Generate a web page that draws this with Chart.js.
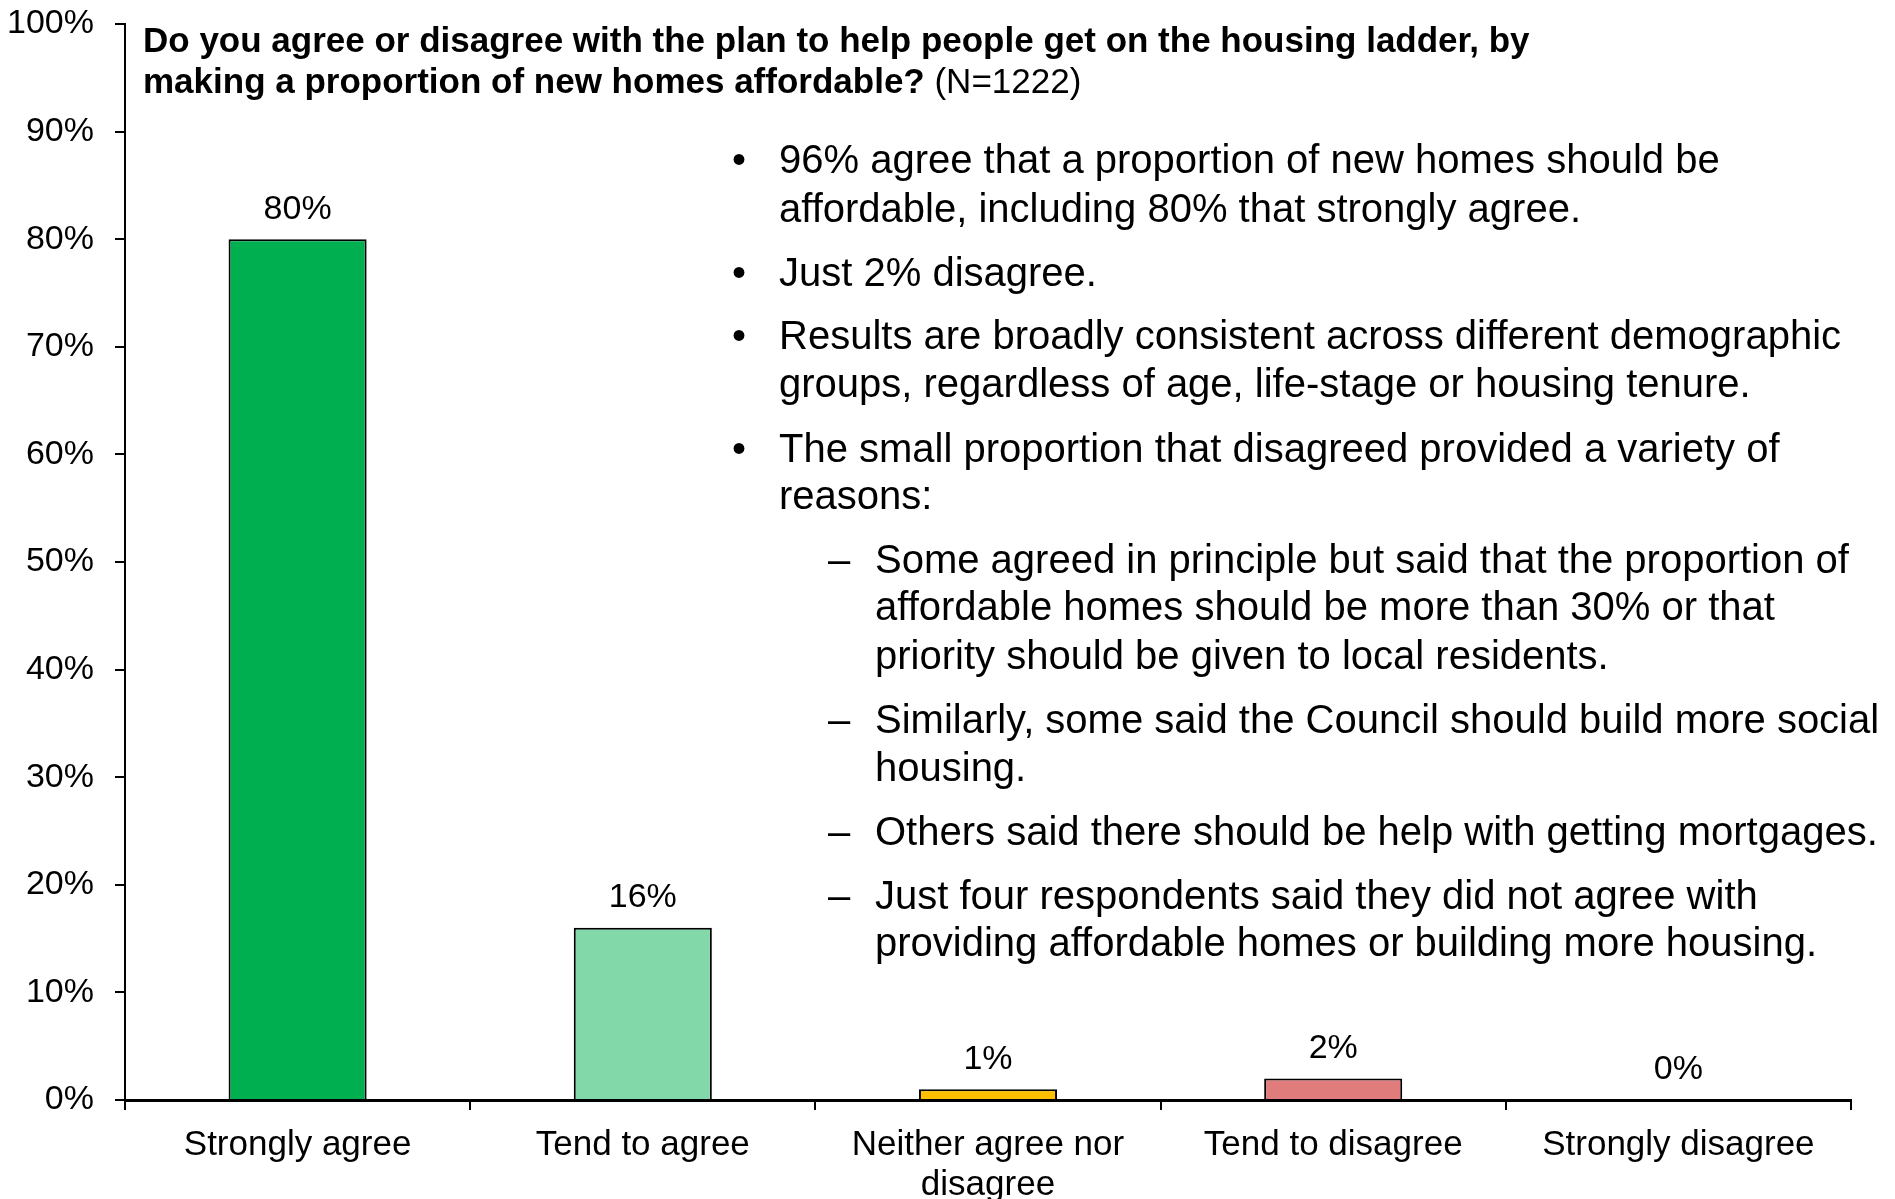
<!DOCTYPE html>
<html>
<head>
<meta charset="utf-8">
<script src="https://cdn.jsdelivr.net/npm/chart.js@4/dist/chart.umd.min.js"></script>
<style>
  body { margin: 0; background: #fff; }
  #chart { display: block; }
</style>
</head>
<body>
<canvas id="chart" width="1895" height="1199"></canvas>
<script>
var categories = ['Strongly agree', 'Tend to agree', ['Neither agree nor', 'disagree'], 'Tend to disagree', 'Strongly disagree'];
var values = [80, 16, 1, 2, 0];
var yTicks = [0, 10, 20, 30, 40, 50, 60, 70, 80, 90, 100];

var titleBold1 = 'Do you agree or disagree with the plan to help people get on the housing ladder, by';
var titleBold2 = 'making a proportion of new homes affordable?';
var titleNote = ' (N=1222)';

var bullets = [
    ['•', '96% agree that a proportion of new homes should be', 'affordable, including 80% that strongly agree.'],
    ['•', 'Just 2% disagree.'],
    ['•', 'Results are broadly consistent across different demographic', 'groups, regardless of age, life-stage or housing tenure.'],
    ['•', 'The small proportion that disagreed provided a variety of', 'reasons:'],
    ['–', 'Some agreed in principle but said that the proportion of', 'affordable homes should be more than 30% or that', 'priority should be given to local residents.'],
    ['–', 'Similarly, some said the Council should build more social', 'housing.'],
    ['–', 'Others said there should be help with getting mortgages.'],
    ['–', 'Just four respondents said they did not agree with', 'providing affordable homes or building more housing.']
];

var barColours = ['#00B050', '#82D8A8', '#FFC000', '#E07C7C', '#BFBFBF'];
var FONT = "'Liberation Sans', Arial, sans-serif";

// value labels above each bar
var valueLabels = {
    id: 'valueLabels',
    afterDatasetsDraw: function (chart) {
        var ctx = chart.ctx;
        var meta = chart.getDatasetMeta(0);
        ctx.save();
        ctx.font = '34px ' + FONT;
        ctx.fillStyle = '#000';
        ctx.textAlign = 'center';
        ctx.textBaseline = 'middle';
        meta.data.forEach(function (bar, i) {
            ctx.fillText(values[i] + '%', bar.x, bar.y - 30);
        });
        ctx.restore();
    }
};

// title and commentary text
var notes = {
    id: 'notes',
    afterDraw: function (chart) {
        var ctx = chart.ctx;
        ctx.save();
        ctx.fillStyle = '#000';
        ctx.textBaseline = 'middle';
        ctx.textAlign = 'left';

        ctx.font = 'bold 35px ' + FONT;
        ctx.fillText(titleBold1, 143, 42);
        ctx.fillText(titleBold2, 143, 83);
        var w = ctx.measureText(titleBold2).width;
        ctx.font = '35px ' + FONT;
        ctx.fillText(titleNote, 143 + w, 83);

        var lineYs = [[162, 211], [275], [338, 386], [451, 498], [562, 609, 658], [722, 770], [834], [898, 945]];
        ctx.font = '40px ' + FONT;
        bullets.forEach(function (b, i) {
            var sub = b[0] === '–';
            var markX = sub ? 828 : 732;
            var textX = sub ? 875 : 779;
            ctx.fillText(b[0], markX, lineYs[i][0]);
            for (var k = 1; k < b.length; k++) {
                ctx.fillText(b[k], textX, lineYs[i][k - 1]);
            }
        });
        ctx.restore();
    }
};

var ctx = document.getElementById('chart').getContext('2d');
var myChart = new Chart(ctx, {
    type: 'bar',
    data: {
        labels: categories,
        datasets: [{
            data: values,
            backgroundColor: barColours,
            borderColor: '#000',
            borderWidth: 2,
            borderSkipped: 'bottom',
            barPercentage: 0.4,
            categoryPercentage: 1.0
        }]
    },
    options: {
        responsive: false,
        animation: false,
        layout: { padding: { top: 24, right: 44, left: 0, bottom: 0 } },
        plugins: {
            legend: { display: false },
            title: { display: false },
            tooltip: { enabled: false }
        },
        scales: {
            x: {
                grid: {
                    offset: true,
                    drawOnChartArea: false,
                    drawTicks: true,
                    tickLength: 10,
                    color: '#000',
                    lineWidth: 2
                },
                border: { display: true, color: '#000', width: 3 },
                ticks: {
                    color: '#000',
                    font: { family: FONT, size: 35, lineHeight: 1.15 },
                    padding: 15,
                    maxRotation: 0,
                    autoSkip: false
                },
                afterFit: function (scale) {
                    scale.height = 99;
                    scale.paddingLeft = 0;
                    scale.paddingRight = 0;
                }
            },
            y: {
                min: 0,
                max: 100,
                afterBuildTicks: function (scale) {
                    scale.ticks = yTicks.map(function (v) { return { value: v }; });
                },
                grid: {
                    drawOnChartArea: false,
                    drawTicks: true,
                    tickLength: 10,
                    color: '#000',
                    lineWidth: 2
                },
                border: { display: true, color: '#000', width: 2 },
                ticks: {
                    color: '#000',
                    font: { family: FONT, size: 34 },
                    padding: 21,
                    callback: function (v) { return v + '%'; }
                },
                afterFit: function (scale) {
                    scale.width = 125;
                    scale.paddingTop = 0;
                    scale.paddingBottom = 0;
                }
            }
        }
    },
    plugins: [valueLabels, notes]
});
</script>
</body>
</html>
